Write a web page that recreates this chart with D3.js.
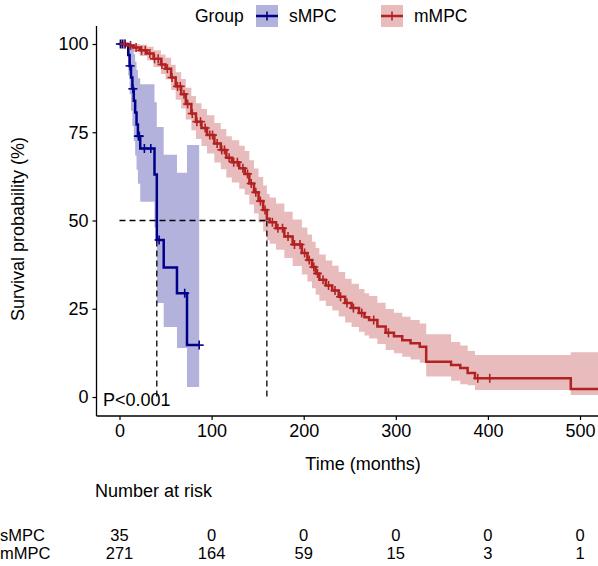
<!DOCTYPE html>
<html>
<head>
<meta charset="utf-8">
<script src="https://cdn.jsdelivr.net/npm/d3@7"></script>
<style>
  body { margin: 0; background: #fff; }
  text { font-family: "Liberation Sans", Arial, Helvetica, sans-serif; fill: #000; }
</style>
</head>
<body>
<div id="chart"></div>
<script>
var svgWidth = 598;
var svgHeight = 566;

// sMPC group (step times, estimate, lower / upper 95% CI, in %)
var sTime = [0, 9.5, 11, 12.5, 14, 15.5, 17, 18.5, 20, 22.5, 38, 40.5, 48, 62.4, 73.3];
var sSurv = [100, 96.9, 93.8, 90.5, 87.3, 83.9, 80.6, 77.2, 73.9, 70.4, 63.0, 44.5, 36.7, 29.4, 14.7];
var sLow  = [100, 91.1, 85.8, 81.1, 76.8, 72.5, 68.4, 64.4, 60.4, 55.3, 48.0, 26.6, 19.8, 13.9, 2.8];
var sUp   = [100, 100, 100, 100, 99.2, 97.1, 95.0, 92.6, 90.3, 88.6, 83.5, 76.5, 68.6, 63.5, 71.4];
var sEnd = 86.5;
var sCensor = [1, 3, 6, 11.5, 14.5, 20.5, 21.5, 27, 34, 43, 70.8, 86.5];

// mMPC group
var mTime = [0, 8, 15, 22, 30, 37, 45, 50, 56, 61, 67, 72, 78, 83, 89, 95, 103, 110, 116, 122, 130, 136, 141, 146, 151, 156, 160, 163, 170, 179, 188, 198, 204, 209, 213, 217, 224, 231, 238, 245, 252, 260, 266, 271, 280, 289, 298, 307, 316, 326, 333, 360, 370, 378, 386, 490];
var mSurv = [100, 99.6, 99.0, 98.2, 97.3, 95.8, 94.2, 93.0, 90.5, 88.0, 85.8, 83.0, 80.3, 78.0, 76.2, 74.2, 71.8, 70.0, 67.8, 66.5, 64.8, 63.2, 60.5, 58.0, 55.5, 53.0, 50.5, 49.5, 47.8, 45.5, 43.2, 40.8, 38.8, 36.8, 35.0, 33.2, 31.6, 30.2, 28.4, 26.6, 25.2, 23.8, 22.6, 21.8, 20.0, 18.2, 17.2, 16.1, 15.2, 14.2, 10.0, 9.1, 8.2, 6.8, 5.3, 2.3];
var mLow  = [100, 98.9, 97.8, 96.6, 95.4, 93.5, 91.5, 90.0, 87.0, 84.2, 81.7, 78.6, 75.6, 73.1, 71.1, 69.0, 66.4, 64.5, 62.2, 60.8, 59.0, 57.3, 54.5, 52.0, 49.4, 46.9, 44.4, 43.4, 41.7, 39.4, 37.1, 34.7, 32.7, 30.8, 29.0, 27.3, 25.8, 24.5, 22.8, 21.1, 19.8, 18.5, 17.4, 16.6, 15.0, 13.3, 12.4, 11.4, 10.6, 9.7, 5.8, 4.6, 3.6, 3.3, 2.0, 0.6];
var mUp   = [100, 100, 100, 99.8, 99.2, 98.2, 97.0, 96.1, 94.1, 92.0, 90.1, 87.6, 85.3, 83.2, 81.6, 79.8, 77.6, 75.9, 73.9, 72.7, 71.2, 69.7, 67.1, 64.7, 62.3, 59.9, 57.5, 56.5, 54.8, 52.5, 50.3, 48.0, 46.0, 44.0, 42.2, 40.4, 38.7, 37.2, 35.4, 33.5, 32.1, 30.6, 29.4, 28.6, 26.7, 24.9, 23.9, 22.7, 21.8, 20.8, 17.8, 15.6, 14.6, 13.0, 11.9, 12.7];
var mEnd = 560;
var mCensor = [5, 12, 18, 24, 28, 33, 38, 42, 46, 52, 57, 63, 66, 70, 74, 79, 84, 88, 93, 98, 101, 106, 111, 114, 119, 124, 128, 134, 139, 143, 148, 153, 158, 166, 172, 177, 183, 190, 196, 201, 206, 211, 215, 221, 227, 234, 240, 247, 254, 263, 276, 292, 389, 402];

var xTicks = [0, 100, 200, 300, 400, 500];
var yTicks = [0, 25, 50, 75, 100];
var riskGroups = ["sMPC", "mMPC"];
var riskS = [35, 0, 0, 0, 0, 0];
var riskM = [271, 164, 59, 15, 3, 1];
var medians = [40.5, 160];

var colS = "#00008B";
var colM = "#B22222";

var svg = d3.select("#chart").append("svg")
    .attr("width", svgWidth)
    .attr("height", svgHeight);

var panel = { left: 96.5, top: 26, bottom: 416 };

var x = d3.scaleLinear().domain([0, 100]).range([119.5, 211.6]);
var y = d3.scaleLinear().domain([0, 100]).range([397, 44]);

function rows(t, s, lo, up, end) {
  var r = t.map(function(d, i) { return { t: d, s: s[i], lo: lo[i], up: up[i] }; });
  var last = r[r.length - 1];
  r.push({ t: end, s: last.s, lo: last.lo, up: last.up });
  return r;
}
var sRows = rows(sTime, sSurv, sLow, sUp, sEnd);
var mRows = rows(mTime, mSurv, mLow, mUp, mEnd);

var area = d3.area().curve(d3.curveStepAfter)
    .x(function(d) { return x(d.t); })
    .y0(function(d) { return y(d.lo); })
    .y1(function(d) { return y(d.up); });
var line = d3.line().curve(d3.curveStepAfter)
    .x(function(d) { return x(d.t); })
    .y(function(d) { return y(d.s); });

var plot = svg.append("g");

plot.append("path").datum(sRows).attr("d", area).attr("fill", colS).attr("fill-opacity", 0.3);
plot.append("path").datum(mRows).attr("d", area).attr("fill", colM).attr("fill-opacity", 0.3);

// median lines
plot.append("line")
    .attr("x1", x(0)).attr("x2", x(medians[1]))
    .attr("y1", y(50)).attr("y2", y(50))
    .attr("stroke", "#000").attr("stroke-width", 1.3).attr("stroke-dasharray", "6,4");
medians.forEach(function(m) {
  plot.append("line")
      .attr("x1", x(m)).attr("x2", x(m))
      .attr("y1", y(50)).attr("y2", y(0))
      .attr("stroke", "#000").attr("stroke-width", 1.3).attr("stroke-dasharray", "6,4");
});

plot.append("path").datum(sRows).attr("d", line).attr("fill", "none").attr("stroke", colS).attr("stroke-width", 2.5);
plot.append("path").datum(mRows).attr("d", line).attr("fill", "none").attr("stroke", colM).attr("stroke-width", 2.5);

function survAt(times, surv, t) {
  var i = d3.bisectRight(times, t) - 1;
  return surv[Math.max(i, 0)];
}
function censorMarks(times, surv, cens, col) {
  var g = plot.append("g").attr("stroke", col).attr("stroke-width", 1.6);
  cens.forEach(function(c) {
    var cx = x(c), cy = y(survAt(times, surv, c));
    g.append("line").attr("x1", cx - 4.5).attr("x2", cx + 4.5).attr("y1", cy).attr("y2", cy);
    g.append("line").attr("x1", cx).attr("x2", cx).attr("y1", cy - 4.5).attr("y2", cy + 4.5);
  });
}
censorMarks(sTime, sSurv, sCensor, colS);
censorMarks(mTime, mSurv, mCensor, colM);

// axes
var xAxis = d3.axisBottom(x).tickValues(xTicks).tickSize(4).tickPadding(4);
var yAxis = d3.axisLeft(y).tickValues(yTicks).tickSize(4).tickPadding(4);

var gx = svg.append("g").attr("transform", "translate(0," + panel.bottom + ")").call(xAxis);
gx.select(".domain").attr("d", "M" + panel.left + ",0H" + svgWidth);
var gy = svg.append("g").attr("transform", "translate(" + panel.left + ",0)").call(yAxis);
gy.select(".domain").attr("d", "M0," + panel.top + "V" + panel.bottom);
[gx, gy].forEach(function(g) {
  g.selectAll(".domain").attr("stroke", "#000").attr("stroke-width", 1.3);
  g.selectAll(".tick line").attr("stroke", "#000").attr("stroke-width", 1.2);
  g.selectAll(".tick text").attr("font-size", 18).attr("font-family", null).attr("fill", "#000");
});

svg.append("text").attr("x", 363).attr("y", 470).attr("text-anchor", "middle")
    .attr("font-size", 18).text("Time (months)");
svg.append("text").attr("transform", "translate(24,229) rotate(-90)").attr("text-anchor", "middle")
    .attr("font-size", 18).text("Survival probability (%)");
svg.append("text").attr("x", 103).attr("y", 406).attr("font-size", 18).text("P<0.001");

// legend
var leg = svg.append("g");
leg.append("text").attr("x", 195).attr("y", 22).attr("font-size", 17.5).text("Group");
[["sMPC", colS, 256], ["mMPC", colM, 381]].forEach(function(k) {
  var g = leg.append("g").attr("transform", "translate(" + k[2] + ",5)");
  g.append("rect").attr("width", 22).attr("height", 22).attr("fill", k[1]).attr("fill-opacity", 0.3);
  g.append("line").attr("x1", 0).attr("x2", 22).attr("y1", 11).attr("y2", 11).attr("stroke", k[1]).attr("stroke-width", 2.5);
  g.append("line").attr("x1", 11).attr("x2", 11).attr("y1", 6.5).attr("y2", 15.5).attr("stroke", k[1]).attr("stroke-width", 1.6);
  leg.append("text").attr("x", k[2] + 33).attr("y", 22).attr("font-size", 17.5).text(k[0]);
});

// risk table
svg.append("text").attr("x", 95).attr("y", 497).attr("font-size", 18).text("Number at risk");
var riskRows = [riskS, riskM];
riskGroups.forEach(function(gname, i) {
  var yy = 541 + i * 18;
  svg.append("text").attr("x", 0).attr("y", yy).attr("font-size", 16.5).text(gname);
  riskRows[i].forEach(function(v, j) {
    svg.append("text").attr("x", x(xTicks[j])).attr("y", yy).attr("text-anchor", "middle")
        .attr("font-size", 16.5).text(v);
  });
});
</script>
</body>
</html>
